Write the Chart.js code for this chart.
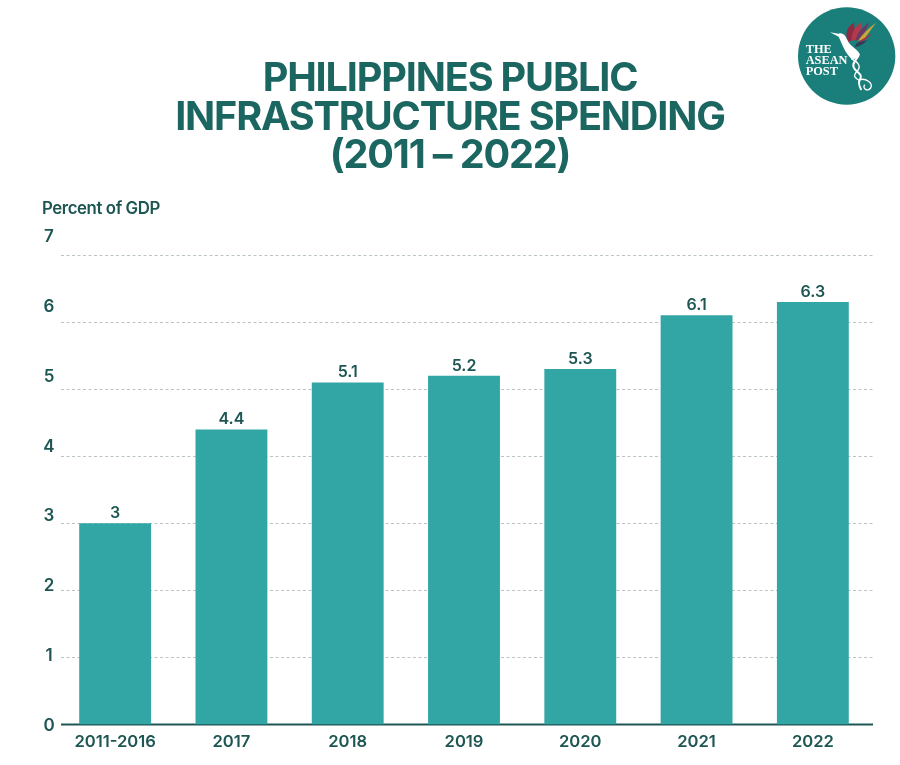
<!DOCTYPE html>
<html lang="en">
<head>
  <meta charset="UTF-8">
  <title>Philippines Public Infrastructure Spending</title>
  <script src="https://cdn.jsdelivr.net/npm/chart.js"></script>
  <style>
    html, body { margin: 0; padding: 0; background: #fff; }
    #wrap { position: relative; width: 900px; height: 765px; overflow: hidden; font-family: Inter, sans-serif; }
    #chart { position: absolute; left: 0; top: 0; }
    h1 {
      position: absolute; left: 0; top: 58px; width: 900px; margin: 0;
      text-align: center; color: #1b6661; font-size: 39.6px; line-height: 38.5px;
      font-weight: 700; letter-spacing: -1.15px;
    }
    #unit { position: absolute; left: 42px; top: 198px; color: #1d5653; font-size: 16.8px; font-weight: 600; letter-spacing: -0.4px; }
    #logo { position: absolute; left: 780px; top: 0; }
  </style>
</head>
<body>
<div id="wrap">
  <canvas id="chart" width="900" height="765"></canvas>
  <h1>PHILIPPINES PUBLIC<br>INFRASTRUCTURE SPENDING<br>(2011 – 2022)</h1>
  <div id="unit">Percent of GDP</div>
  <svg id="logo" width="120" height="110" viewBox="0 0 360 330">
    <circle cx="200" cy="168" r="146" fill="#1a7f7b"/>
    <!-- wing -->
    <path d="M204 128 C194 100 200 80 222 68 L226 112Z" fill="#8e2a44"/>
    <path d="M214 124 C214 96 226 78 246 66 L236 116Z" fill="#b23a4c"/>
    <path d="M226 122 C232 98 246 80 268 68 L244 118Z" fill="#6b3a63"/>
    <path d="M234 122 C246 104 264 86 288 68 L252 118Z" fill="#c9a53d"/>
    <path d="M228 132 C246 128 262 118 276 100 L240 122Z" fill="#a8324a"/>
    <path d="M222 142 C238 140 252 132 262 120 L232 128Z" fill="#2e3f5c"/>
    <!-- body and tail -->
    <path d="M150 97 L176 101 C188 96 198 108 204 124 C212 140 232 146 240 164 C232 178 222 178 214 176 C196 160 186 132 176 110Z" fill="#fff"/>
    <path d="M236 166 C228 182 214 190 222 204 C230 218 250 222 240 238 C232 250 240 262 244 270" fill="none" stroke="#fff" stroke-width="6"/>
    <path d="M214 176 C232 186 244 196 234 210 C224 222 216 228 236 240 C258 232 280 250 272 264 C262 276 246 266 254 254" fill="none" stroke="#fff" stroke-width="4"/>
    <text font-family="'Liberation Serif', serif" font-weight="700" font-size="37" fill="#fff">
      <tspan x="77" y="158">THE</tspan><tspan x="77" y="192">ASEAN</tspan><tspan x="77" y="226">POST</tspan>
    </text>
  </svg>
</div>
<script>
  const categories = ['2011-2016', '2017', '2018', '2019', '2020', '2021', '2022'];
  const spending = [3, 4.4, 5.1, 5.2, 5.3, 6.1, 6.3];
  const valueLabels = ['3', '4.4', '5.1', '5.2', '5.3', '6.1', '6.3'];
  const yTicks = [0, 1, 2, 3, 4, 5, 6, 7];

  // dashed lines run a little further right than the bars' band, so drawn here
  const gridPlugin = {
    id: 'dashedGrid',
    beforeDatasetsDraw(chart) {
      const ctx = chart.ctx;
      const y = chart.scales.y;
      ctx.save();
      ctx.strokeStyle = '#b9c4c3';
      ctx.lineWidth = 1;
      ctx.setLineDash([3, 2.5]);
      yTicks.slice(1).forEach(function (v) {
        const py = Math.round(y.getPixelForValue(v)) + 0.5;
        ctx.beginPath();
        ctx.moveTo(61, py);
        ctx.lineTo(873, py);
        ctx.stroke();
      });
      ctx.setLineDash([]);
      ctx.strokeStyle = '#1d5653';
      ctx.lineWidth = 2;
      const py0 = y.getPixelForValue(0);
      ctx.beginPath();
      ctx.moveTo(61, py0);
      ctx.lineTo(873, py0);
      ctx.stroke();
      ctx.restore();
    }
  };

  const labelPlugin = {
    id: 'labels',
    afterDatasetsDraw(chart) {
      const ctx = chart.ctx;
      const y = chart.scales.y;
      ctx.save();
      ctx.fillStyle = '#1d5653';
      ctx.font = '600 16px Inter, sans-serif';
      ctx.textAlign = 'center';
      ctx.textBaseline = 'alphabetic';
      chart.getDatasetMeta(0).data.forEach(function (bar, i) {
        ctx.fillText(valueLabels[i], bar.x, bar.y - 5);
      });
      // the reference's axis numbers drift upward from their lines, more with each step
      ctx.font = '600 17px Inter, sans-serif';
      ctx.textBaseline = 'middle';
      yTicks.forEach(function (v) {
        ctx.fillText(String(v), 49, y.getPixelForValue(v) + 1.5 - v * 2.8);
      });
      ctx.restore();
    }
  };

  new Chart(document.getElementById('chart'), {
    type: 'bar',
    data: {
      labels: categories,
      datasets: [{
        data: spending,
        backgroundColor: '#32a6a4',
        categoryPercentage: 1,
        barPercentage: 0.618
      }]
    },
    options: {
      responsive: false,
      animation: false,
      layout: { padding: { top: 255, right: 29, bottom: 0, left: 0 } },
      plugins: { legend: { display: false }, tooltip: { enabled: false } },
      scales: {
        x: {
          afterFit(scale) { scale.height = 40.5; },
          grid: { display: false },
          border: { display: false },
          ticks: { color: '#1d5653', padding: 0, maxRotation: 0, font: { family: 'Inter', size: 16.6, weight: '600' } }
        },
        y: {
          min: 0,
          max: 7,
          afterFit(scale) { scale.width = 57; },
          grid: { display: false },
          border: { display: false },
          ticks: { stepSize: 1, display: false }
        }
      }
    },
    plugins: [gridPlugin, labelPlugin]
  });
</script>
</body>
</html>
